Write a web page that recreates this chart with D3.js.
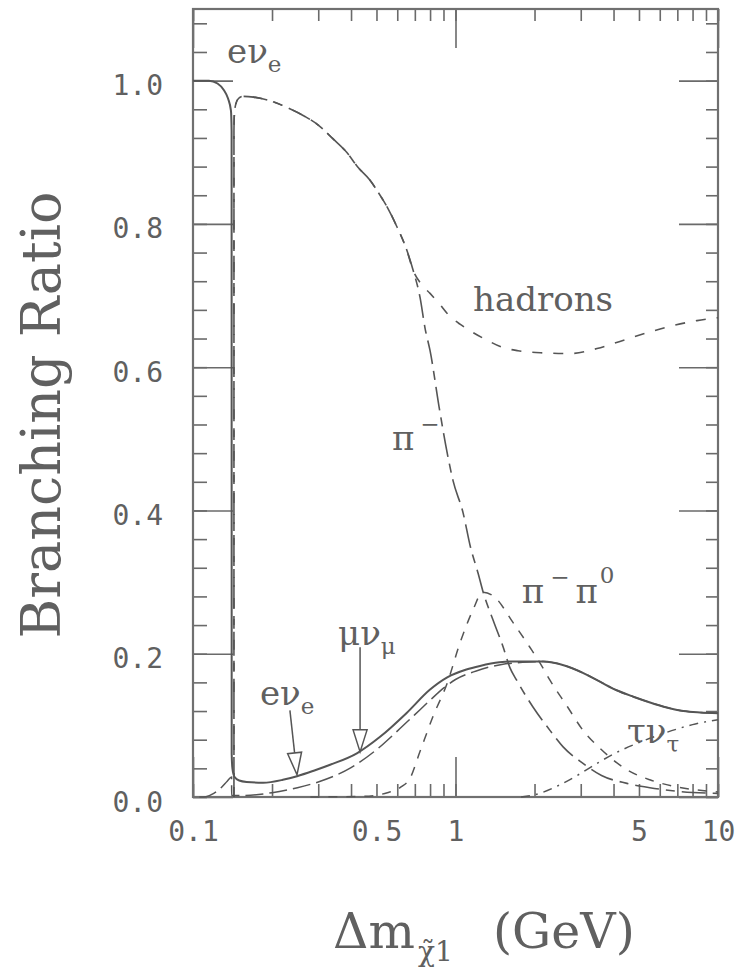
<!DOCTYPE html>
<html>
<head>
<meta charset="utf-8">
<script src="https://cdn.jsdelivr.net/npm/d3@7"></script>
<style>
  body { margin: 0; background: #fff; }
  text { fill: #606060; }
</style>
</head>
<body>
<svg id="chart" width="741" height="971"></svg>
<script>
// Branching ratios vs mass splitting (GeV)
const eNuE = [[0.1,1.0],[0.115,1.0],[0.124,0.996],[0.131,0.987],[0.136,0.975],[0.1395,0.958],[0.1403,0.93],
  [0.14035,0.5],[0.1404,0.06],[0.1413,0.040],[0.144,0.028],[0.15,0.023],[0.16,0.021],[0.185,0.020],
  [0.22,0.024],[0.249,0.029],[0.29,0.037],[0.333,0.045],[0.421,0.061],[0.516,0.084],[0.65,0.117],
  [0.8,0.150],[0.93,0.167],[1.1,0.178],[1.24,0.183],[1.47,0.188],[1.61,0.189],[2.16,0.189],[2.58,0.184],
  [3.07,0.173],[3.55,0.161],[4.11,0.149],[4.76,0.140],[5.51,0.132],[6.38,0.125],[7.38,0.120],[8.54,0.118],
  [10,0.117]];

const muNuMu = [[0.1057,0],[0.112,0.0005],[0.12,0.005],[0.128,0.013],[0.135,0.022],[0.1403,0.028],
  [0.14035,0.002],[0.15,0.002],[0.2,0.006],[0.25,0.013],[0.3,0.021],[0.4,0.041],[0.5,0.066],[0.6,0.092],
  [0.7,0.115],[0.8,0.135],[0.9,0.152],[1.0,0.164],[1.2,0.176],[1.5,0.185],[1.8,0.188],[2.16,0.189],
  [2.58,0.184],[3.07,0.173],[3.55,0.161],[4.11,0.149],[4.76,0.140],[5.51,0.132],[6.38,0.125],[7.38,0.120],
  [8.54,0.118],[10,0.117]];

const piMinus = [[0.1432,0],[0.14321,0.5],[0.14322,0.93],[0.1437,0.952],[0.1455,0.967],[0.149,0.975],
  [0.155,0.978],[0.17,0.977],[0.196,0.972],[0.23,0.962],[0.267,0.950],[0.3,0.938],[0.341,0.919],
  [0.385,0.900],[0.425,0.879],[0.47,0.862],[0.516,0.840],[0.55,0.823],[0.6,0.795],[0.65,0.765],[0.69,0.735],
  [0.733,0.697],[0.765,0.655],[0.8,0.623],[0.87,0.540],[0.93,0.480],[0.978,0.442],[1.07,0.396],[1.14,0.349],
  [1.22,0.312],[1.27,0.288],[1.39,0.247],[1.52,0.209],[1.61,0.181],[1.71,0.163],[1.97,0.126],[2.29,0.093],
  [2.57,0.070],[3.06,0.047],[3.6,0.030],[4.5,0.019],[5.5,0.013],[7,0.008],[10,0.005]];

const hadrons = [[0.1432,0],[0.14321,0.5],[0.14322,0.93],[0.1437,0.952],[0.1455,0.967],[0.149,0.975],
  [0.155,0.978],[0.17,0.977],[0.196,0.972],[0.23,0.962],[0.267,0.950],[0.3,0.938],[0.341,0.919],
  [0.385,0.900],[0.425,0.879],[0.47,0.862],[0.516,0.840],[0.55,0.823],[0.6,0.795],[0.65,0.765],[0.69,0.735],
  [0.74,0.716],[0.8,0.703],[0.87,0.688],[0.93,0.675],[1.04,0.660],[1.135,0.651],[1.33,0.637],[1.5,0.628],
  [1.73,0.623],[2.15,0.620],[2.73,0.619],[3.46,0.626],[4.23,0.636],[5.37,0.648],[6.56,0.657],[8.32,0.665],
  [10,0.669]];

const piPi0 = [[0.28,0],[0.45,0.001],[0.55,0.006],[0.62,0.014],[0.671,0.026],[0.73,0.062],[0.82,0.112],
  [0.93,0.159],[1.04,0.215],[1.165,0.261],[1.27,0.286],[1.41,0.279],[1.66,0.243],[1.92,0.209],[2.1,0.187],
  [2.29,0.163],[2.67,0.126],[3.06,0.093],[3.6,0.066],[4.5,0.038],[5.5,0.024],[7,0.014],[10,0.007]];

const tauNuTau = [[1.777,0],[2.0,0.003],[2.5,0.017],[3.0,0.033],[3.5,0.048],[4.0,0.060],[5.0,0.076],
  [6.0,0.087],[7.0,0.095],[8.0,0.101],[10,0.108]];

// ticks
const xMinorTicks = [0.1,0.2,0.3,0.4,0.5,0.6,0.7,0.8,0.9,1,2,3,4,5,6,7,8,9,10];
const xMajorTicks = [0.1,1,10];
const xLabelled = [0.1,0.5,1,5,10];
const yMinorTicks = [0,0.04,0.08,0.12,0.16,0.2,0.24,0.28,0.32,0.36,0.4,0.44,0.48,0.52,0.56,0.6,
  0.64,0.68,0.72,0.76,0.8,0.84,0.88,0.92,0.96,1.0,1.04,1.08];
const yMajorTicks = [0,0.2,0.4,0.6,0.8,1.0];

const margin = { top: 9, right: 23, bottom: 174, left: 193 };
const W = 741, H = 971;
const plotW = W - margin.left - margin.right;
const plotH = H - margin.top - margin.bottom;

const svg = d3.select("#chart");
const g = svg.append("g").attr("transform", `translate(${margin.left},${margin.top})`);

const x = d3.scaleLog().domain([0.1, 10]).range([0, plotW]);
const y = d3.scaleLinear().domain([0, 1.1]).range([plotH, 0]);

const tickColor = "#6a6a6a";
const fmtX = d => xLabelled.includes(d) ? (d < 1 ? d.toFixed(1) : String(d)) : "";
const fmtY = d => yMajorTicks.some(v => Math.abs(v - d) < 1e-9) ? d.toFixed(1) : "";

const styleAxis = sel => {
  sel.select(".domain").remove();
  sel.selectAll(".tick line").attr("stroke", tickColor).attr("stroke-width", 1.6);
  sel.selectAll(".tick text")
    .style("font-family", "'DejaVu Sans Mono', monospace")
    .style("font-size", "28px")
    .attr("fill", "#606060");
};

// minor ticks (with labels on left / bottom)
g.append("g").attr("transform", `translate(0,${plotH})`)
  .call(d3.axisBottom(x).tickValues(xMinorTicks).tickSize(-13).tickPadding(24).tickFormat(fmtX))
  .call(styleAxis);
g.append("g")
  .call(d3.axisTop(x).tickValues(xMinorTicks).tickSize(-12).tickFormat(""))
  .call(styleAxis);
g.append("g")
  .call(d3.axisLeft(y).tickValues(yMinorTicks).tickSize(-14).tickPadding(30).tickFormat(fmtY))
  .call(styleAxis)
  .selectAll(".tick text").attr("dy", "0.5em");
g.append("g").attr("transform", `translate(${plotW},0)`)
  .call(d3.axisRight(y).tickValues(yMinorTicks).tickSize(-12).tickFormat(""))
  .call(styleAxis);

// major ticks
g.append("g").attr("transform", `translate(0,${plotH})`)
  .call(d3.axisBottom(x).tickValues(xMajorTicks).tickSize(-40).tickFormat(""))
  .call(styleAxis);
g.append("g")
  .call(d3.axisTop(x).tickValues(xMajorTicks).tickSize(-39).tickFormat(""))
  .call(styleAxis);
g.append("g")
  .call(d3.axisLeft(y).tickValues(yMajorTicks).tickSize(-40).tickFormat(""))
  .call(styleAxis);
g.append("g").attr("transform", `translate(${plotW},0)`)
  .call(d3.axisRight(y).tickValues(yMajorTicks).tickSize(-39).tickFormat(""))
  .call(styleAxis);

// frame
g.append("rect")
  .attr("x", 0).attr("y", y(1.1)).attr("width", plotW).attr("height", plotH - y(1.1))
  .attr("fill", "none").attr("stroke", "#707070").attr("stroke-width", 2.2);

// curves
const line = d3.line()
  .x(d => x(d[0]))
  .y(d => y(d[1]))
  .curve(d3.curveMonotoneX);

const series = [
  { data: tauNuTau, dash: "9,6,2,6", width: 1.5 },
  { data: piPi0, dash: "9,9", width: 1.5 },
  { data: hadrons, dash: "10,11", width: 1.6 },
  { data: piMinus, dash: "24,7,9,7", width: 1.6 },
  { data: muNuMu, dash: "18,6", width: 1.5 },
  { data: eNuE, dash: null, width: 2 }
];

g.selectAll(".curve").data(series).join("path")
  .attr("class", "curve")
  .attr("d", d => line(d.data))
  .attr("fill", "none")
  .attr("stroke", "#555")
  .attr("stroke-width", d => d.width)
  .attr("stroke-dasharray", d => d.dash);

// arrows pointing at the lepton curves
const arrows = [
  { from: [0.234, 0.121], to: [0.249, 0.031] },
  { from: [0.433, 0.209], to: [0.433, 0.063] }
];
arrows.forEach(a => {
  const x0 = x(a.from[0]), y0 = y(a.from[1]);
  const x1 = x(a.to[0]), y1 = y(a.to[1]);
  const len = Math.hypot(x1 - x0, y1 - y0);
  const ux = (x1 - x0) / len, uy = (y1 - y0) / len;
  const hl = 22, hw = 7;
  const bx = x1 - ux * hl, by = y1 - uy * hl;
  g.append("line").attr("x1", x0).attr("y1", y0).attr("x2", bx).attr("y2", by)
    .attr("stroke", "#555").attr("stroke-width", 1.5);
  g.append("path")
    .attr("d", `M${x1},${y1}L${bx - uy * hw},${by + ux * hw}L${bx + uy * hw},${by - ux * hw}Z`)
    .attr("fill", "#fff").attr("stroke", "#555").attr("stroke-width", 1.5);
});

// curve labels
const labelFont = "'DejaVu Serif', serif";
const curveLabels = [
  { at: [0.1348, 1.025], main: "eν", sub: "e" },
  { at: [0.18, 0.128], main: "eν", sub: "e" },
  { at: [0.357, 0.212], main: "μν", sub: "μ" },
  { at: [1.166, 0.679], main: "hadrons" },
  { at: [0.573, 0.484], main: "π", sup: "−" },
  { at: [1.79, 0.2706], main: "π", sup: "−", main2: "π", sup2: "0" },
  { at: [4.5, 0.075], main: "τν", sub: "τ" }
];
curveLabels.forEach(l => {
  const t = g.append("text")
    .attr("x", x(l.at[0])).attr("y", y(l.at[1]))
    .style("font-family", labelFont).style("font-size", "34px");
  t.append("tspan").text(l.main);
  if (l.sub) t.append("tspan").attr("dy", 9).style("font-size", "23px").text(l.sub);
  if (l.sup) t.append("tspan").attr("dy", -18).attr("dx", 6).style("font-size", "23px").text(l.sup);
  if (l.main2) t.append("tspan").attr("dy", 18).attr("dx", 6).text(l.main2);
  if (l.sup2) t.append("tspan").attr("dy", -20).attr("dx", 2).style("font-size", "23px").text(l.sup2);
});

// axis titles
svg.append("text")
  .attr("transform", "translate(60,415) rotate(-90)")
  .attr("text-anchor", "middle")
  .style("font-family", labelFont).style("font-size", "54px")
  .text("Branching Ratio");

svg.append("text").attr("x", 333).attr("y", 948)
  .style("font-family", labelFont).style("font-size", "49px").text("Δm");
svg.append("text").attr("x", 418).attr("y", 961)
  .style("font-family", labelFont).style("font-size", "28px").text("χ\u03031");
svg.append("text").attr("x", 493).attr("y", 948)
  .style("font-family", labelFont).style("font-size", "49px").text("(GeV)");
</script>
</body>
</html>
